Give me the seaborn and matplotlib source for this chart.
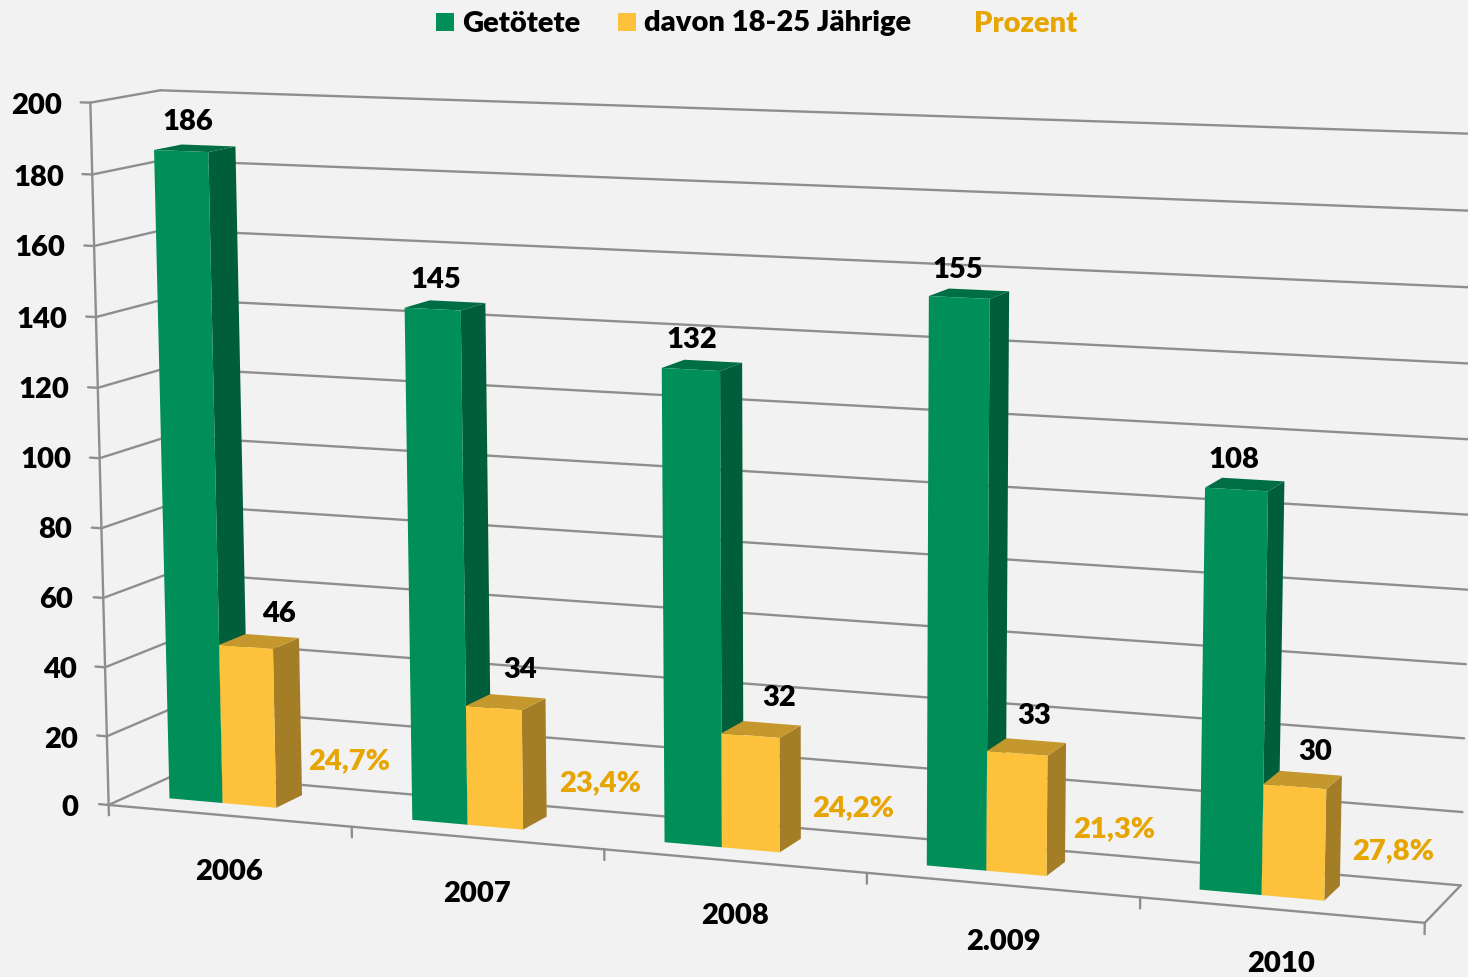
import numpy as np
import pandas as pd
import matplotlib
matplotlib.use("Agg")
import matplotlib.pyplot as plt
import seaborn as sns
from matplotlib.patches import Polygon, Rectangle
from matplotlib.transforms import Transform

# ---------- data ----------
YEARS = ["2006", "2007", "2008", "2.009", "2010"]
KILLED = [186, 145, 132, 155, 108]
YOUNG = [46, 34, 32, 33, 30]
PERCENT = ["24,7%", "23,4%", "24,2%", "21,3%", "27,8%"]
SERIES = ["Getötete", "davon 18-25 Jährige"]
VALUE_TICKS = list(range(0, 201, 20))

# ---------- style ----------
BG = "#F2F2F2"
GRID = "#8E8E8E"
ORANGE = "#E6A500"
FACE = {SERIES[0]: "#008F58", SERIES[1]: "#FDC13B"}
SIDE = {SERIES[0]: "#005E3A", SERIES[1]: "#A37E26"}
TOP = {SERIES[0]: "#006E45", SERIES[1]: "#C4982C"}
W, H = 1468, 977
BAR_W = 0.222          # one bar's width in category units
BAR_SHIFT = 0.385      # where the pair's centre sits in a category
D0, D1 = 0.32, 0.72    # bar depth range in the floor

# ---------- 3D perspective frame (category, depth, value) -> pixel ----------
FRAME = [
    ((0, 0, 0), (109, 804)), ((1, 0, 0), (352, 827)), ((2, 0, 0), (604, 849)),
    ((3, 0, 0), (867, 873)), ((4, 0, 0), (1140, 898)), ((5, 0, 0), (1425, 923)),
    ((0, 0, 200), (90, 103)), ((0, 0, 100), (99.5, 458)),
    ((0, 1, 0), (176, 775)), ((0, 1, 200), (161, 90)),
    ((5, 1, 0), (1461, 884)), ((5, 1, 200), (1478, 133.4)), ((5, 1, 100), (1469, 516)),
]


def fit_camera(pairs):
    rows, rhs = [], []
    for (x, d, z), (u, v) in pairs:
        rows.append([x, d, z, 1, 0, 0, 0, 0, -u * x, -u * d, -u * z]); rhs.append(u)
        rows.append([0, 0, 0, 0, x, d, z, 1, -v * x, -v * d, -v * z]); rhs.append(v)
    sol = np.linalg.lstsq(np.array(rows, float), np.array(rhs, float), rcond=None)[0]
    return np.append(sol, 1).reshape(3, 4)


CAM = fit_camera(FRAME)


def project(x, d, z):
    x, d, z = np.broadcast_arrays(np.asarray(x, float), np.asarray(d, float), np.asarray(z, float))
    p = CAM @ np.stack([x.ravel(), d.ravel(), z.ravel(), np.ones(x.size)])
    return (p[:2] / p[2]).T


class Front(Transform):
    """(bar x, value) on the plane at depth D0 -> pixel coordinates."""
    input_dims = 2
    output_dims = 2
    is_affine = False
    has_inverse = False

    def transform_non_affine(self, values):
        v = np.asarray(values, float)
        return project(v[:, 0] + BAR_SHIFT, D0, v[:, 1])


sns.set_theme(style="white")
plt.rcParams["font.family"] = ["Lato", "DejaVu Sans"]
plt.rcParams["font.weight"] = "bold"

fig = plt.figure(figsize=(W / 100, H / 100), dpi=100, facecolor=BG)
ax = fig.add_axes([0, 0, 1, 1], zorder=1)
ax.set_xlim(0, W)
ax.set_ylim(H, 0)
ax.axis("off")
bax = fig.add_axes([0, 0, 1, 1], zorder=2)


def seg(a, b):
    p = project([a[0], b[0]], [a[1], b[1]], [a[2], b[2]])
    ax.plot(p[:, 0], p[:, 1], color=GRID, lw=1.7, solid_capstyle="round")


# walls and floor
for z in VALUE_TICKS:
    seg((-0.04, 0, z), (0, 0, z))
    seg((0, 0, z), (0, 1, z))
    seg((0, 1, z), (5, 1, z))
seg((0, 0, 0), (0, 0, 200))
seg((0, 0, 0), (5, 0, 0))
seg((5, 0, 0), (5, 1, 0))
for i in range(len(YEARS) + 1):
    seg((i, 0, -3), (i, 0, 0))

# bars through seaborn; front faces are bent onto the perspective plane
df = pd.DataFrame({
    "Jahr": YEARS * 2,
    "Serie": [SERIES[0]] * len(YEARS) + [SERIES[1]] * len(YEARS),
    "Wert": KILLED + YOUNG,
})
sns.barplot(data=df, x="Jahr", y="Wert", hue="Serie", order=YEARS, hue_order=SERIES,
            palette=FACE, saturation=1, width=2 * BAR_W, gap=0, legend=False,
            linewidth=0, ax=bax)
bax.axis("off")
bax.patch.set_alpha(0)

px = ax.transData
front = Front() + px
bars = list(bax.patches)
n = len(YEARS)
for k, bar in enumerate(bars):
    s = SERIES[k // n]
    x0 = bar.get_x() + BAR_SHIFT
    x1 = x0 + bar.get_width()
    v = bar.get_height()
    order = 2 + 2 * (k // n)
    bar.set_transform(front)
    bar.set_clip_on(False)
    bar.set_zorder(order + 1)
    side = project([x1, x1, x1, x1], [D0, D1, D1, D0], [0, 0, v, v])
    top = project([x0, x1, x1, x0], [D0, D0, D1, D1], [v, v, v, v])
    bax.add_patch(Polygon(side, closed=True, fc=SIDE[s], ec="none", transform=px, clip_on=False, zorder=order))
    bax.add_patch(Polygon(top, closed=True, fc=TOP[s], ec="none", transform=px, clip_on=False, zorder=order))


def label(x, y, text, color="black", size=21, ha="center"):
    bax.text(x, y + 2.5, text, color=color, fontsize=size, fontweight=800, ha=ha, va="center",
             transform=px, clip_on=False, zorder=10)


# value axis labels
TICK_LABEL_XY = [(70, 805), (61, 737), (60, 667), (56, 598), (55, 528), (46, 458),
                 (44, 388), (42, 318), (40, 246), (39, 175), (37, 104)]
for z, (x, y) in zip(VALUE_TICKS, TICK_LABEL_XY):
    label(x, y, str(z))

# category labels
for name, (x, y) in zip(YEARS, [(229, 869), (477, 891), (735, 914), (1003, 939), (1281, 962)]):
    label(x, y, name)

# value labels
for v, (x, y) in zip(KILLED, [(188, 120), (436, 278), (692, 338), (958, 267), (1234, 458)]):
    label(x, y, str(v))
for v, (x, y) in zip(YOUNG, [(279, 612), (520, 668), (779, 695), (1034, 713), (1315, 749)]):
    label(x, y, str(v))
for t, (x, y) in zip(PERCENT, [(349, 759), (600, 781), (853, 806), (1114, 827), (1393, 849)]):
    label(x, y, t, color=ORANGE)

# legend
for s, x in zip(SERIES, [436, 618]):
    bax.add_patch(Rectangle((x, 13), 18, 18, fc=FACE[s], ec="none", transform=px, clip_on=False))
label(462, 21, SERIES[0], ha="left")
label(644, 21, SERIES[1], ha="left")
label(974, 21, "Prozent", color=ORANGE, ha="left")

fig.savefig("out.png", dpi=100, facecolor=BG)
